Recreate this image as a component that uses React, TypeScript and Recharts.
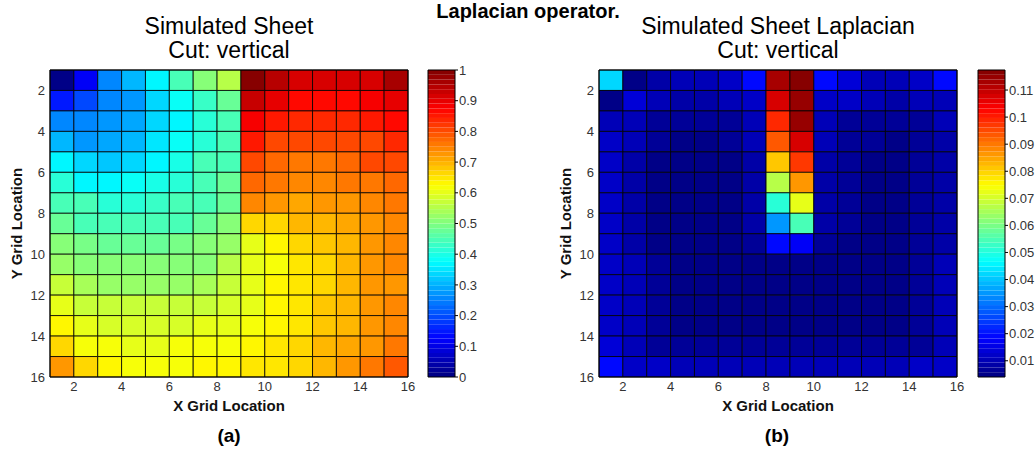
import React from "react";
import { ScatterChart, Scatter, XAxis, YAxis, ReferenceArea } from "recharts";

// grid is 16x16 nodes, pcolor shows 15x15 cells
const gridTicks = [2, 4, 6, 8, 10, 12, 14, 16];
const sheetBarTicks = [0, 0.1, 0.2, 0.3, 0.4, 0.5, 0.6, 0.7, 0.8, 0.9, 1];
const lapBarTicks = [0.01, 0.02, 0.03, 0.04, 0.05, 0.06, 0.07, 0.08, 0.09, 0.1, 0.11];
const sheetRange = [0, 1];
const lapRange = [0.004, 0.1174];

const sheet = [
  [0.0, 0.12, 0.25, 0.3, 0.37, 0.44, 0.5, 0.55, 1.0, 0.94, 0.91, 0.91, 0.91, 0.92, 0.96],
  [0.15, 0.2, 0.25, 0.28, 0.33, 0.39, 0.43, 0.48, 0.93, 0.9, 0.87, 0.86, 0.86, 0.88, 0.9],
  [0.25, 0.25, 0.27, 0.29, 0.33, 0.37, 0.42, 0.45, 0.89, 0.85, 0.83, 0.83, 0.83, 0.845, 0.86],
  [0.3, 0.28, 0.29, 0.31, 0.35, 0.38, 0.42, 0.45, 0.845, 0.81, 0.8, 0.8, 0.8, 0.81, 0.83],
  [0.37, 0.33, 0.32, 0.33, 0.36, 0.4, 0.44, 0.45, 0.81, 0.78, 0.765, 0.765, 0.77, 0.8, 0.81],
  [0.42, 0.37, 0.37, 0.38, 0.4, 0.42, 0.44, 0.47, 0.78, 0.75, 0.74, 0.74, 0.75, 0.765, 0.78],
  [0.45, 0.44, 0.42, 0.42, 0.43, 0.44, 0.45, 0.47, 0.74, 0.72, 0.71, 0.72, 0.73, 0.74, 0.76],
  [0.47, 0.45, 0.45, 0.45, 0.45, 0.45, 0.47, 0.5, 0.67, 0.67, 0.69, 0.695, 0.71, 0.73, 0.74],
  [0.5, 0.49, 0.47, 0.47, 0.47, 0.49, 0.5, 0.53, 0.6, 0.625, 0.66, 0.68, 0.7, 0.72, 0.74],
  [0.53, 0.5, 0.5, 0.5, 0.5, 0.5, 0.515, 0.55, 0.6, 0.61, 0.645, 0.67, 0.695, 0.72, 0.74],
  [0.565, 0.54, 0.53, 0.53, 0.53, 0.53, 0.54, 0.565, 0.6, 0.625, 0.645, 0.67, 0.695, 0.72, 0.73],
  [0.595, 0.57, 0.565, 0.565, 0.565, 0.565, 0.57, 0.58, 0.6, 0.625, 0.655, 0.68, 0.7, 0.72, 0.74],
  [0.625, 0.595, 0.585, 0.585, 0.585, 0.585, 0.595, 0.595, 0.61, 0.625, 0.655, 0.68, 0.7, 0.725, 0.74],
  [0.66, 0.62, 0.61, 0.6, 0.6, 0.61, 0.61, 0.61, 0.625, 0.645, 0.66, 0.69, 0.71, 0.73, 0.75],
  [0.72, 0.67, 0.625, 0.62, 0.61, 0.62, 0.625, 0.625, 0.645, 0.655, 0.67, 0.695, 0.72, 0.75, 0.79],
];

const laplacian = [
  [0.0423, 0.0055, 0.0089, 0.0094, 0.0104, 0.0118, 0.0196, 0.113, 0.1174, 0.0196, 0.0138, 0.0109, 0.0109, 0.0123, 0.0196],
  [0.0055, 0.0138, 0.0104, 0.0089, 0.0089, 0.0104, 0.0121, 0.1081, 0.1149, 0.0121, 0.0121, 0.0094, 0.0089, 0.0104, 0.0109],
  [0.0104, 0.0104, 0.007, 0.006, 0.006, 0.007, 0.0104, 0.0994, 0.114, 0.0104, 0.0075, 0.007, 0.006, 0.0075, 0.0094],
  [0.0121, 0.0094, 0.006, 0.0053, 0.0053, 0.006, 0.0094, 0.0927, 0.1072, 0.0094, 0.007, 0.006, 0.0053, 0.007, 0.0089],
  [0.0121, 0.0089, 0.0053, 0.0048, 0.0048, 0.0053, 0.0089, 0.081, 0.0975, 0.0089, 0.006, 0.0053, 0.0048, 0.006, 0.0089],
  [0.0123, 0.0089, 0.0053, 0.0048, 0.0048, 0.0053, 0.0089, 0.0675, 0.0859, 0.0089, 0.006, 0.0053, 0.0048, 0.006, 0.0089],
  [0.0123, 0.0089, 0.0053, 0.0048, 0.0048, 0.0053, 0.0089, 0.051, 0.0714, 0.0089, 0.006, 0.0053, 0.0048, 0.006, 0.0089],
  [0.0123, 0.0089, 0.0053, 0.0048, 0.0048, 0.0053, 0.0089, 0.0346, 0.0539, 0.0089, 0.006, 0.0053, 0.0048, 0.006, 0.0089],
  [0.0121, 0.0089, 0.0053, 0.0048, 0.0048, 0.0051, 0.006, 0.0196, 0.0178, 0.006, 0.0053, 0.0051, 0.0048, 0.006, 0.0089],
  [0.0123, 0.0094, 0.006, 0.0048, 0.0048, 0.0048, 0.0048, 0.0048, 0.0048, 0.0048, 0.0048, 0.0048, 0.0048, 0.006, 0.0094],
  [0.0123, 0.0094, 0.006, 0.0048, 0.0048, 0.0048, 0.0048, 0.0048, 0.0048, 0.0048, 0.0048, 0.0048, 0.0048, 0.006, 0.0094],
  [0.0128, 0.0094, 0.006, 0.0048, 0.0048, 0.0051, 0.0051, 0.0051, 0.0051, 0.0051, 0.0051, 0.0048, 0.0048, 0.006, 0.0094],
  [0.0128, 0.0094, 0.0065, 0.0053, 0.0053, 0.0053, 0.0053, 0.0053, 0.0053, 0.0053, 0.0053, 0.0053, 0.0053, 0.0065, 0.0094],
  [0.0133, 0.0099, 0.007, 0.006, 0.006, 0.006, 0.006, 0.006, 0.006, 0.006, 0.006, 0.006, 0.006, 0.007, 0.0099],
  [0.0196, 0.0128, 0.0113, 0.0104, 0.0109, 0.0109, 0.0109, 0.0109, 0.0109, 0.0109, 0.0109, 0.0109, 0.0109, 0.0113, 0.0128],
];

const FONT = "'Liberation Sans', Arial, Helvetica, sans-serif";
const TICK = { fontSize: 13, fill: "#333", fontFamily: FONT };

// matlab jet, 64 levels
function jet(t: number): string {
  const n = 64;
  const k = Math.min(n - 1, Math.max(0, Math.floor(t * n)));
  const v = (k + 0.5) / n;
  const c = (x: number) => Math.round(255 * Math.min(1, Math.max(0, x)));
  return `rgb(${c(1.5 - Math.abs(4 * v - 3))},${c(1.5 - Math.abs(4 * v - 2))},${c(1.5 - Math.abs(4 * v - 1))})`;
}

function cells(m: number[][]) {
  const out: { x: number; y: number; v: number }[] = [];
  m.forEach((row, r) => row.forEach((v, c) => out.push({ x: c + 1, y: r + 1, v })));
  return out;
}

function Heatmap({ left, data, range }: { left: number; data: number[][]; range: number[] }) {
  const pts = cells(data);
  const [lo, hi] = range;
  return (
    <div style={{ position: "absolute", left, top: 0 }}>
      <ScatterChart width={420} height={420} margin={{ top: 70, right: 12, bottom: 6, left: 14 }}>
        <XAxis
          type="number"
          dataKey="x"
          domain={[1, 16]}
          ticks={gridTicks}
          allowDataOverflow
          height={37}
          tickSize={3}
          tickLine={false}
          axisLine={false}
          tick={TICK}
          label={{
            value: "X Grid Location",
            position: "insideBottom",
            offset: 3,
            style: { fontSize: 15, fontWeight: "bold", fill: "#111", fontFamily: FONT },
          }}
        />
        <YAxis
          type="number"
          dataKey="y"
          domain={[1, 16]}
          reversed
          ticks={gridTicks}
          allowDataOverflow
          width={36}
          tickSize={3}
          tickLine={false}
          axisLine={false}
          tick={TICK}
          label={{
            value: "Y Grid Location",
            position: "insideLeft",
            angle: -90,
            offset: 3,
            style: { fontSize: 15, fontWeight: "bold", fill: "#111", fontFamily: FONT, textAnchor: "middle" },
          }}
        />
        {pts.map((p) => (
          <ReferenceArea
            key={`${p.x}-${p.y}`}
            x1={p.x}
            x2={p.x + 1}
            y1={p.y}
            y2={p.y + 1}
            fill={jet((p.v - lo) / (hi - lo))}
            fillOpacity={1}
            stroke="#000"
            strokeOpacity={0.8}
            strokeWidth={1}
          />
        ))}
        <ReferenceArea x1={1} x2={16} y1={1} y2={16} fill="none" stroke="#000" strokeWidth={1} />
        <Scatter data={pts} isAnimationActive={false} shape={() => <g />} />
      </ScatterChart>
    </div>
  );
}

function ColorBar({ left, range, ticks, width }: { left: number; range: number[]; ticks: number[]; width: number }) {
  const [lo, hi] = range;
  const bands = Array.from({ length: 64 }, (_, i) => i);
  return (
    <div style={{ position: "absolute", left, top: 0 }}>
      <ScatterChart width={width} height={420} margin={{ top: 70, right: 0, bottom: 43, left: 28 }}>
        <XAxis type="number" dataKey="x" domain={[0, 1]} hide />
        <YAxis
          type="number"
          dataKey="y"
          orientation="right"
          domain={[lo, hi]}
          ticks={ticks}
          allowDataOverflow
          width={width - 55}
          tickSize={3}
          tickMargin={1}
          axisLine={false}
          tickLine={{ stroke: "#000" }}
          tick={TICK}
          tickFormatter={(v: number) => String(v)}
        />
        {bands.map((i) => (
          <ReferenceArea
            key={i}
            x1={0}
            x2={1}
            y1={lo + ((hi - lo) * i) / 64}
            y2={lo + ((hi - lo) * (i + 1)) / 64}
            fill={jet((i + 0.5) / 64)}
            fillOpacity={1}
            stroke="none"
          />
        ))}
        <ReferenceArea x1={0} x2={1} y1={lo} y2={hi} fill="none" stroke="#000" strokeWidth={1} />
        <Scatter data={[{ x: 0, y: lo }]} isAnimationActive={false} shape={() => <g />} />
      </ScatterChart>
    </div>
  );
}

export default function App() {
  return (
    <div
      style={{
        position: "absolute",
        left: 0,
        top: 0,
        width: 1035,
        height: 450,
        background: "#fff",
        overflow: "hidden",
        fontFamily: FONT,
      }}
    >
      <Heatmap left={0} data={sheet} range={sheetRange} />
      <ColorBar left={400} range={sheetRange} ticks={sheetBarTicks} width={80} />
      <Heatmap left={549} data={laplacian} range={lapRange} />
      <ColorBar left={950} range={lapRange} ticks={lapBarTicks} width={85} />
      <svg
        width={1035}
        height={450}
        style={{ position: "absolute", left: 0, top: 0, pointerEvents: "none" }}
        fontFamily={FONT}
        textAnchor="middle"
      >
        <text x={528} y={18} fontSize={20} fontWeight="bold" fill="#000">
          Laplacian operator.
        </text>
        <text x={229} y={34} fontSize={23} fill="#000">Simulated Sheet</text>
        <text x={229} y={58} fontSize={23} fill="#000">Cut: vertical</text>
        <text x={778} y={34} fontSize={23} fill="#000">Simulated Sheet Laplacian</text>
        <text x={778} y={58} fontSize={23} fill="#000">Cut: vertical</text>
        <text x={229} y={442} fontSize={19} fontWeight="bold" fill="#000">(a)</text>
        <text x={777} y={442} fontSize={19} fontWeight="bold" fill="#000">(b)</text>
      </svg>
    </div>
  );
}
